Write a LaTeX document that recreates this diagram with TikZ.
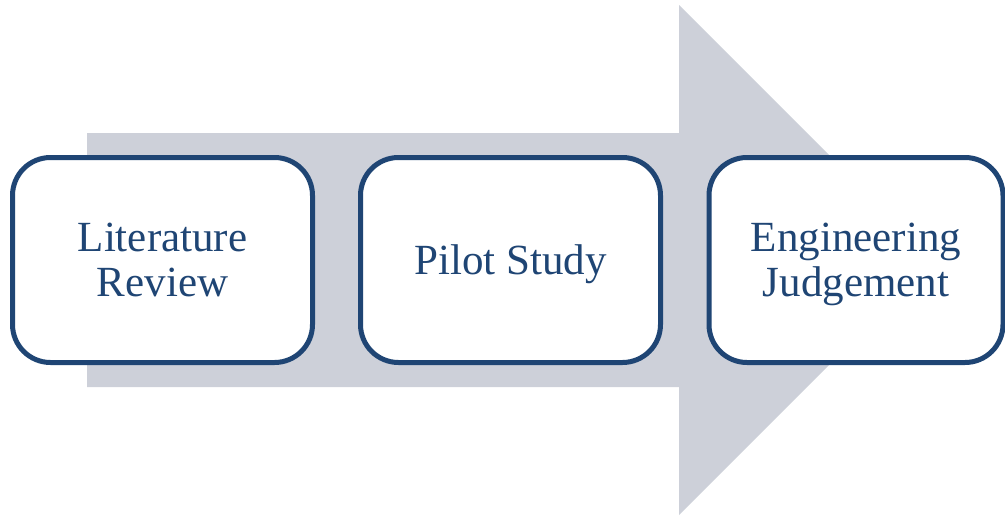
\documentclass[tikz,border=0pt]{standalone}
\usepackage{fontspec}
\setmainfont{Liberation Serif}
\definecolor{arrowgray}{HTML}{CDD0D9}
\definecolor{boxblue}{HTML}{1F4574}
\begin{document}
\begin{tikzpicture}[x=1pt,y=-1pt,
  stepbox/.style={draw=boxblue, line width=5pt, fill=white, rounded corners=38pt,
    minimum height=205pt, text=boxblue, align=center, inner sep=0pt,
    font=\fontsize{43}{45}\selectfont},
  oneline/.style={text height=28pt, text depth=0pt},
  twoline/.style={text height=73pt, text depth=0pt}]
\useasboundingbox (0,0) rectangle (1005,515);
\fill[arrowgray] (87,133) -- (679,133) -- (679,5) -- (934,260) -- (679,515) -- (679,387) -- (87,387) -- cycle;
\node[stepbox, twoline, minimum width=300pt] (lit) at (162.5,260) {Literature\\Review};
\node[stepbox, oneline, minimum width=300pt] (pilot) at (510.5,260) {Pilot Study};
\node[stepbox, twoline, minimum width=294pt] (eng) at (856,260) {Engineering\\Judgement};
\end{tikzpicture}
\end{document}
